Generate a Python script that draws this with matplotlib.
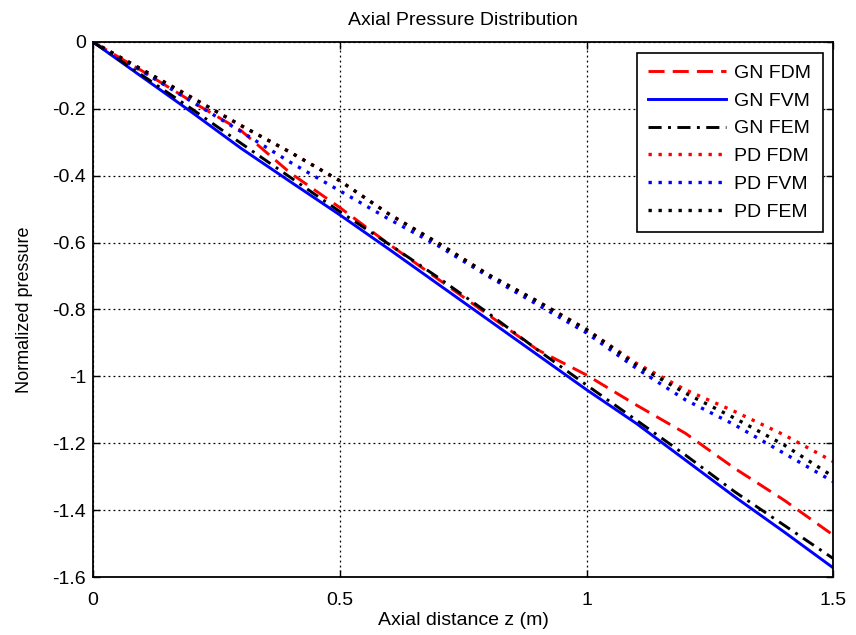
import numpy as np
import matplotlib
matplotlib.use("Agg")
import matplotlib.pyplot as plt

plt.rcParams["font.family"] = ["Liberation Sans", "DejaVu Sans"]

# ─── Data ────────────────────────────────────────────────────────────────────
z = [0.0, 0.1, 0.2, 0.3, 0.4, 0.5, 0.6, 0.7, 0.8, 0.9, 1.0, 1.1, 1.2, 1.3, 1.4, 1.5]

gn_fdm = [0, -0.087, -0.178, -0.265, -0.392, -0.495, -0.605, -0.71, -0.815, -0.92,
          -0.996, -1.085, -1.17, -1.275, -1.37, -1.475]
gn_fvm = [0, -0.105, -0.21, -0.318, -0.418, -0.517, -0.62, -0.725, -0.83, -0.935,
          -1.04, -1.14, -1.25, -1.36, -1.465, -1.573]
gn_fem = [0, -0.1, -0.2, -0.303, -0.405, -0.507, -0.605, -0.705, -0.81, -0.92,
          -1.026, -1.13, -1.235, -1.345, -1.445, -1.545]
pd_fdm = [0, -0.083, -0.166, -0.25, -0.33, -0.415, -0.515, -0.602, -0.695, -0.775,
          -0.86, -0.96, -1.04, -1.105, -1.175, -1.255]
pd_fvm = [0, -0.088, -0.178, -0.268, -0.36, -0.445, -0.53, -0.61, -0.70, -0.785,
          -0.87, -0.975, -1.07, -1.145, -1.23, -1.315]
pd_fem = [0, -0.083, -0.166, -0.25, -0.33, -0.415, -0.515, -0.602, -0.695, -0.775,
          -0.86, -0.965, -1.05, -1.125, -1.205, -1.30]

x_ticks = [0, 0.5, 1, 1.5]
x_labels = ["0", "0.5", "1", "1.5"]
y_ticks = [-1.6, -1.4, -1.2, -1, -0.8, -0.6, -0.4, -0.2, 0]
y_labels = ["-1.6", "-1.4", "-1.2", "-1", "-0.8", "-0.6", "-0.4", "-0.2", "0"]

# ─── Plot ────────────────────────────────────────────────────────────────────
fig = plt.figure(figsize=(8.56, 6.35), dpi=100)
ax = fig.add_axes([0.1086, 0.0913, 0.865, 0.8426])

lw = 2.1
dot = (1.0, 2.0)
ax.plot(z, gn_fdm, color="#ff0000", lw=lw, dashes=(5.5, 2.8), label="GN FDM")
ax.plot(z, gn_fvm, color="#0000ff", lw=lw, label="GN FVM")
ax.plot(z, gn_fem, color="black", lw=lw, dashes=(4.5, 2.2, 1.0, 2.2), label="GN FEM")
ax.plot(z, pd_fdm, color="#ff0000", lw=2.4, dashes=dot, label="PD FDM")
ax.plot(z, pd_fvm, color="#0000ff", lw=2.4, dashes=dot, label="PD FVM")
ax.plot(z, pd_fem, color="black", lw=2.4, dashes=dot, label="PD FEM")

ax.set_xlim(0, 1.5)
ax.set_ylim(-1.6, 0)
ax.set_xticks(x_ticks)
ax.set_xticklabels(x_labels)
ax.set_yticks(y_ticks)
ax.set_yticklabels(y_labels)
ax.tick_params(direction="in", top=True, right=True, labelsize=14, length=5, width=1)
ax.tick_params(axis="x", pad=11)
ax.tick_params(axis="y", pad=5)
ax.grid(True, color="black", linestyle=(0, (1.5, 2.5)), linewidth=0.9)
for s in ax.spines.values():
    s.set_linewidth(1.3)

ax.set_title("Axial Pressure Distribution", fontsize=14, pad=12)
ax.set_xlabel("Axial distance z (m)", fontsize=14, labelpad=2)
ax.set_ylabel("Normalized pressure", fontsize=13, labelpad=14)

leg = ax.legend(loc="upper right", fontsize=14, fancybox=False, framealpha=1,
                edgecolor="black", handlelength=4.0, handletextpad=0.4,
                borderpad=0.6, labelspacing=0.52, borderaxespad=0.55)
leg.get_frame().set_linewidth(1.2)

plt.savefig("out.png", dpi=100)
